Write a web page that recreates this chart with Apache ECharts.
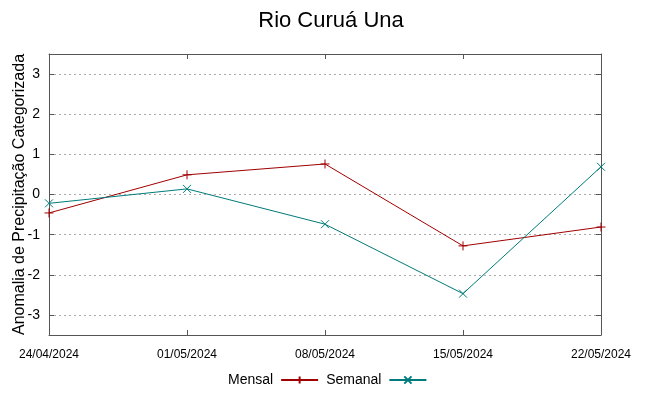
<!DOCTYPE html>
<html>
<head>
<meta charset="utf-8">
<script src="https://cdn.jsdelivr.net/npm/echarts@6/dist/echarts.min.js"></script>
<style>html,body{margin:0;padding:0;background:#fff;}#c{width:649px;height:396px;}</style>
</head>
<body>
<div id="c"></div>
<script>
const categories = ['24/04/2024', '01/05/2024', '08/05/2024', '15/05/2024', '22/05/2024'];
const mensal = [-0.46, 0.49, 0.76, -1.28, -0.81];
const semanal = [-0.22, 0.14, -0.74, -2.47, 0.69];
const yTicks = [-3, -2, -1, 0, 1, 2, 3];

const chart = echarts.init(document.getElementById('c'), null, {renderer: 'canvas'});
const font = 'Liberation Sans, Arial, sans-serif';
const frame = '#555555';
const plusPath = 'path://M0,5L10,5M5,0L5,10';
const crossPath = 'path://M0,0L10,10M10,0L0,10';
const redC = '#a00000';
const tealC = '#007b7b';

chart.setOption({
  animation: false,
  backgroundColor: '#ffffff',
  title: {
    text: 'Rio Curuá Una',
    left: 326, top: 5, textAlign: 'center',
    textStyle: {fontFamily: font, fontSize: 22, fontWeight: 'normal', color: '#000'}
  },
  grid: {left: 49, right: 48, top: 54, bottom: 61, containLabel: false, outerBoundsMode: 'none'},
  legend: {
    bottom: 4, left: 223, align: 'right',
    itemWidth: 37, itemHeight: 9, itemGap: 7,
    textStyle: {fontFamily: font, fontSize: 14, color: '#000', padding: [0, 3, 0, 0]},
    data: ['Mensal', 'Semanal']
  },
  xAxis: [{
    type: 'category', data: categories, boundaryGap: false, position: 'bottom',
    axisLine: {onZero: false, lineStyle: {color: frame, width: 1}},
    axisTick: {inside: true, length: 5, lineStyle: {color: frame}},
    axisLabel: {fontFamily: font, fontSize: 12, color: '#000', margin: 14, interval: 0},
    splitLine: {show: false}
  }, {
    type: 'category', data: categories, boundaryGap: false, position: 'top',
    axisLine: {onZero: false, lineStyle: {color: frame, width: 1}},
    axisTick: {inside: true, length: 5, lineStyle: {color: frame}},
    axisLabel: {show: false}, splitLine: {show: false}
  }],
  yAxis: [{
    type: 'value', min: -3.5, max: 3.5, position: 'left',
    axisLine: {show: true, onZero: false, lineStyle: {color: frame, width: 1}},
    axisTick: {show: true, inside: true, length: 5, customValues: yTicks, lineStyle: {color: frame}},
    axisLabel: {
      fontFamily: font, fontSize: 14, color: '#000', margin: 9,
      customValues: yTicks
    },
    splitLine: {show: true, lineStyle: {color: '#aaaaaa', type: [2, 3], width: 1}},
    name: 'Anomalia de Precipitação Categorizada',
    nameLocation: 'middle', nameGap: 21, nameRotate: 90, nameMoveOverlap: false,
    nameTextStyle: {fontFamily: font, fontSize: 16, color: '#000'}
  }, {
    type: 'value', min: -3.5, max: 3.5, position: 'right',
    axisLine: {show: true, onZero: false, lineStyle: {color: frame, width: 1}},
    axisTick: {show: true, inside: true, length: 5, customValues: yTicks, lineStyle: {color: frame}},
    axisLabel: {show: false}, splitLine: {show: false}
  }],
  series: [{
    name: 'Mensal', type: 'line', data: mensal,
    symbol: plusPath, symbolSize: 9, showAllSymbol: true,
    lineStyle: {color: redC, width: 1},
    itemStyle: {color: 'transparent', borderColor: redC, borderWidth: 1},
    emphasis: {disabled: true}
  }, {
    name: 'Semanal', type: 'line', data: semanal,
    symbol: crossPath, symbolSize: 8, showAllSymbol: true,
    lineStyle: {color: tealC, width: 1},
    itemStyle: {color: 'transparent', borderColor: tealC, borderWidth: 1},
    emphasis: {disabled: true}
  }]
});
</script>
</body>
</html>
